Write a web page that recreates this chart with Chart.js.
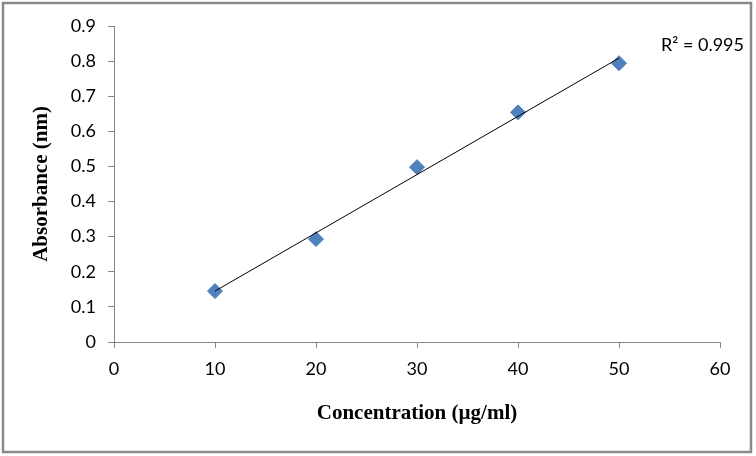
<!DOCTYPE html>
<html>
<head>
<meta charset="utf-8">
<script src="https://cdn.jsdelivr.net/npm/chart.js@4/dist/chart.umd.min.js"></script>
<style>
  html, body { margin: 0; padding: 0; background: #fff; }
  #wrap { position: relative; width: 756px; height: 456px; }
</style>
</head>
<body>
<div id="wrap"><canvas id="c" width="756" height="456"></canvas></div>
<script>
// values
var concentration = [10, 20, 30, 40, 50];
var absorbance = [0.145, 0.293, 0.498, 0.654, 0.794];
var rSquaredLabel = 'R\u00b2 = 0.995';
var xTitle = 'Concentration (\u00b5g/ml)';
var yTitle = 'Absorbance (nm)';

// least squares line through the points (the Excel trendline)
function linearFit(xs, ys) {
  var n = xs.length, sx = 0, sy = 0, sxy = 0, sxx = 0;
  for (var i = 0; i < n; i++) {
    sx += xs[i]; sy += ys[i]; sxy += xs[i] * ys[i]; sxx += xs[i] * xs[i];
  }
  var slope = (n * sxy - sx * sy) / (n * sxx - sx * sx);
  return { slope: slope, intercept: (sy - slope * sx) / n };
}
var fit = linearFit(concentration, absorbance);
var xFirst = concentration[0], xLast = concentration[concentration.length - 1];
var trend = [
  { x: xFirst, y: fit.intercept + fit.slope * xFirst },
  { x: xLast, y: fit.intercept + fit.slope * xLast }
];
var points = concentration.map(function(x, i) { return { x: x, y: absorbance[i] }; });

var frame = {
  id: 'frame',
  beforeDraw: function(chart) {
    var ctx = chart.ctx;
    ctx.save();
    ctx.fillStyle = '#fff';
    ctx.fillRect(0, 0, chart.width, chart.height);
    ctx.restore();
  },
  afterDraw: function(chart) {
    var ctx = chart.ctx;
    ctx.save();
    ctx.strokeStyle = '#8a8a8a';
    ctx.lineWidth = 2.5;
    ctx.strokeRect(3, 3, 748, 449);
    ctx.fillStyle = '#000';
    ctx.font = '18px Lato';
    ctx.textBaseline = 'middle';
    ctx.textAlign = 'left';
    ctx.fillText(rSquaredLabel, 661, 45);
    ctx.restore();
  }
};

var tickFont = { family: 'Lato', size: 18 };
var titleFont = { family: '"Liberation Serif", "Times New Roman", serif', size: 21, weight: 'bold' };

new Chart(document.getElementById('c'), {
  type: 'scatter',
  data: {
    datasets: [
      {
        type: 'line',
        data: trend,
        borderColor: '#000',
        borderWidth: 1,
        pointRadius: 0,
        fill: false
      },
      {
        data: points,
        pointStyle: 'rectRot',
        pointRadius: 7.5,
        pointHoverRadius: 7.5,
        backgroundColor: '#4F81BD',
        borderColor: '#4A7EBB',
        borderWidth: 1
      }
    ]
  },
  options: {
    responsive: false,
    animation: false,
    layout: { padding: { top: 26, right: 36, left: 0, bottom: 0 } },
    plugins: { legend: { display: false }, tooltip: { enabled: false } },
    scales: {
      x: {
        type: 'linear',
        min: 0, max: 60,
        ticks: { stepSize: 10, color: '#000', font: tickFont, padding: 10 },
        grid: { drawOnChartArea: false, tickLength: 6, tickColor: '#868686' },
        border: { color: '#868686', width: 1 },
        title: { display: true, text: xTitle, color: '#000', font: titleFont, padding: { top: 30, bottom: 30 } },
        afterFit: function(s) { s.height = 114; }
      },
      y: {
        min: 0, max: 0.9,
        ticks: {
          stepSize: 0.1, color: '#000', font: tickFont, padding: 12,
          callback: function(v) { return v === 0 ? '0' : v.toFixed(1); }
        },
        grid: { drawOnChartArea: false, tickLength: 6, tickColor: '#868686' },
        border: { color: '#868686', width: 1 },
        title: { display: true, text: yTitle, color: '#000', font: titleFont, padding: { top: 29, bottom: 29 } },
        afterFit: function(s) { s.width = 114; }
      }
    }
  },
  plugins: [frame]
});
</script>
</body>
</html>
